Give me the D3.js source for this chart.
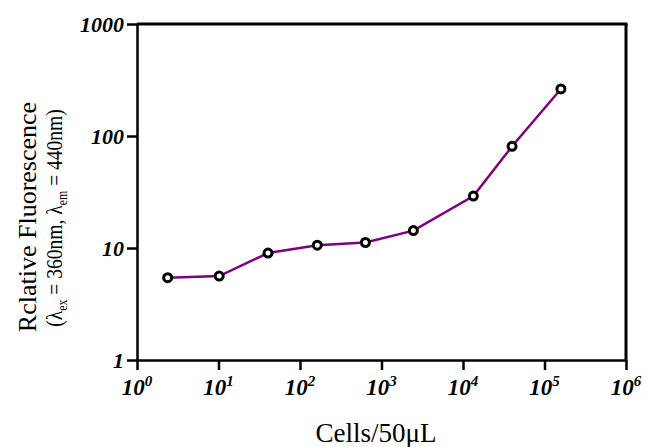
<!DOCTYPE html>
<html>
<head>
<meta charset="utf-8">
<script src="https://cdn.jsdelivr.net/npm/d3@7"></script>
<style>
  body { margin: 0; background: #fff; }
  svg { display: block; }
</style>
</head>
<body>
<div id="chart"></div>
<script>
// data
var cells = [2.38, 10.2, 40.5, 163, 635, 2460, 13400, 40000, 159000];
var fluor = [5.43, 5.62, 9.02, 10.6, 11.2, 14.3, 29.1, 80.9, 263];
var xTickExp = [0, 1, 2, 3, 4, 5, 6];
var yTicks = [1, 10, 100, 1000];

var width = 646, height = 447;
var mLeft = 137, mRight = 626, mTop = 24, mBottom = 360;

var svg = d3.select("#chart").append("svg")
  .attr("width", width)
  .attr("height", height);

var x = d3.scaleLog().domain([1, 1e6]).range([mLeft, mRight]);
var y = d3.scaleLog().domain([1, 1000]).range([mBottom, mTop]);

// frame: top and right lines
svg.append("line")
  .attr("x1", mLeft).attr("x2", mRight + 1.5)
  .attr("y1", mTop).attr("y2", mTop)
  .attr("stroke", "#000").attr("stroke-width", 3);
svg.append("line")
  .attr("x1", mRight).attr("x2", mRight)
  .attr("y1", mTop).attr("y2", mBottom)
  .attr("stroke", "#000").attr("stroke-width", 3);

// y axis
var yAxis = svg.append("g")
  .attr("transform", "translate(" + mLeft + ",0)")
  .call(d3.axisLeft(y).tickValues(yTicks).tickFormat(d3.format("d")).tickSize(10).tickSizeOuter(0).tickPadding(3));
yAxis.select(".domain").attr("stroke-width", 2.5);
yAxis.selectAll(".tick line").attr("stroke-width", 2.5);
yAxis.selectAll(".tick text")
  .attr("font-family", "Liberation Serif")
  .attr("font-size", 22)
  .attr("font-weight", "bold")
  .attr("font-style", "italic")
  .attr("fill", "#000");

// x axis
var xAxis = svg.append("g")
  .attr("transform", "translate(0," + mBottom + ")")
  .call(d3.axisBottom(x).tickValues(xTickExp.map(function(e) { return Math.pow(10, e); }))
    .tickFormat("").tickSize(10).tickSizeOuter(0));
xAxis.select(".domain").attr("stroke-width", 2.5);
xAxis.selectAll(".tick line").attr("stroke-width", 2.5);

// x tick labels with superscripts
var xl = svg.append("g").selectAll("text")
  .data(xTickExp)
  .enter().append("text")
  .attr("x", function(e) { return x(Math.pow(10, e)); })
  .attr("y", mBottom + 35)
  .attr("text-anchor", "middle")
  .attr("font-family", "Liberation Serif")
  .attr("font-size", 23)
  .attr("font-weight", "bold")
  .attr("font-style", "italic");
xl.append("tspan").text("10");
xl.append("tspan")
  .attr("dy", -9)
  .attr("font-size", 15)
  .text(function(e) { return e; });

// line
var line = d3.line()
  .x(function(d, i) { return x(cells[i]); })
  .y(function(d, i) { return y(fluor[i]); });

svg.append("path")
  .datum(fluor)
  .attr("d", line)
  .attr("fill", "none")
  .attr("stroke", "#800080")
  .attr("stroke-width", 2.5);

// markers
svg.append("g").selectAll("circle")
  .data(fluor)
  .enter().append("circle")
  .attr("cx", function(d, i) { return x(cells[i]); })
  .attr("cy", function(d) { return y(d); })
  .attr("r", 4)
  .attr("fill", "#fff")
  .attr("stroke", "#000")
  .attr("stroke-width", 3);

// axis titles
svg.append("text")
  .attr("x", 376)
  .attr("y", 442)
  .attr("text-anchor", "middle")
  .attr("font-family", "Liberation Serif")
  .attr("font-size", 27)
  .text("Cells/50μL");

svg.append("text")
  .attr("transform", "translate(36,217) rotate(-90)")
  .attr("text-anchor", "middle")
  .attr("font-family", "Liberation Serif")
  .attr("font-size", 26)
  .text("Rclative Fluorescence");

var sub = svg.append("text")
  .attr("transform", "translate(62,218) rotate(-90) scale(0.85,1)")
  .attr("text-anchor", "middle")
  .attr("font-family", "Liberation Serif")
  .attr("font-size", 23);
sub.append("tspan").text("(λ");
sub.append("tspan").attr("font-size", 14).attr("dy", 5).text("ex");
sub.append("tspan").attr("dy", -5).text(" = 360nm, λ");
sub.append("tspan").attr("font-size", 14).attr("dy", 5).text("em");
sub.append("tspan").attr("dy", -5).text(" = 440nm)");
</script>
</body>
</html>
